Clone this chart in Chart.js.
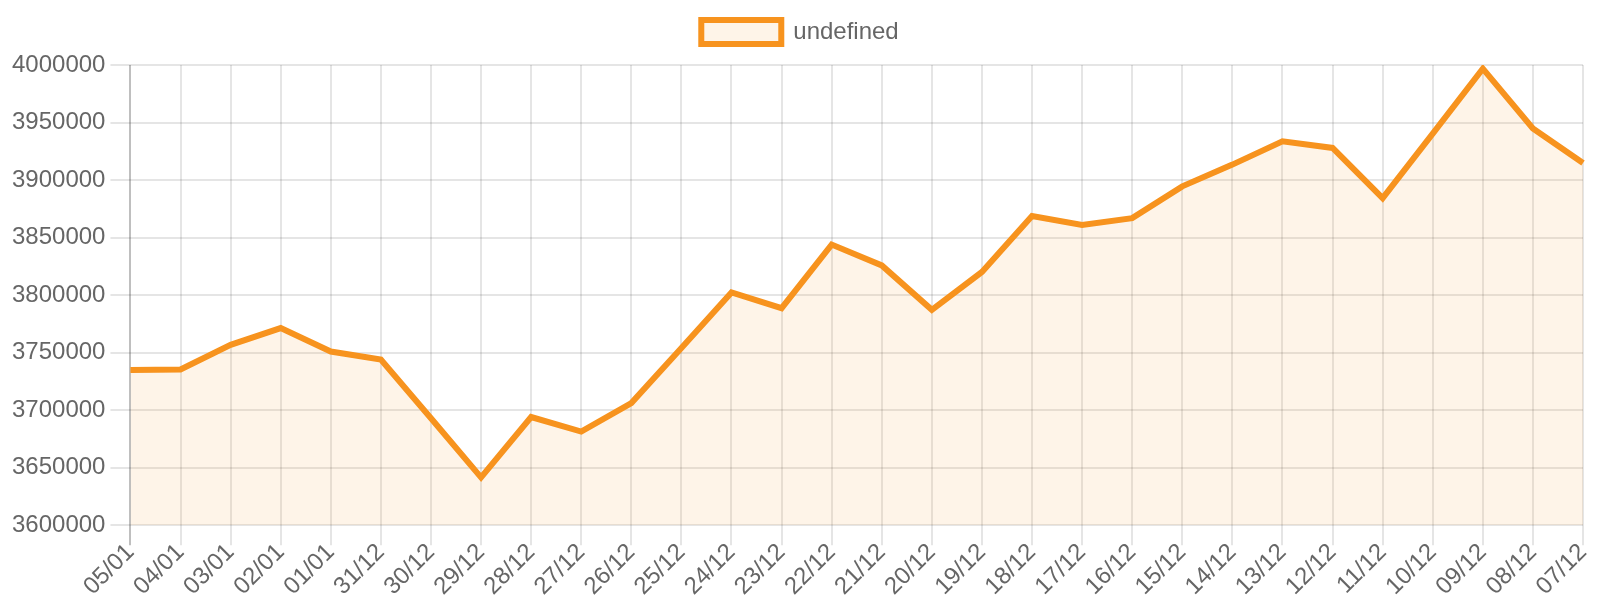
<!DOCTYPE html>
<html>
<head>
<meta charset="utf-8">
<script src="https://cdn.jsdelivr.net/npm/chart.js@4"></script>
<style>
html,body{margin:0;padding:0;background:#fff;}
#wrap{width:1600px;height:600px;position:relative;}
</style>
</head>
<body>
<div id="wrap"><canvas id="c"></canvas></div>
<script>
const categories = ['05/01','04/01','03/01','02/01','01/01','31/12','30/12','29/12','28/12','27/12','26/12','25/12','24/12','23/12','22/12','21/12','20/12','19/12','18/12','17/12','16/12','15/12','14/12','13/12','12/12','11/12','10/12','09/12','08/12','07/12'];
const seriesValues = [3734900,3735400,3756700,3771300,3750900,3743900,3693000,3641500,3694000,3681300,3706100,3754000,3802300,3788600,3843900,3825800,3787200,3820100,3868700,3861000,3866900,3894500,3913400,3933700,3927900,3884300,3940400,3996800,3944800,3914800];
const seriesLabel = 'undefined';
const yMin = 3600000, yMax = 4000000, yStep = 50000;

const FONT = {family: '"Liberation Sans", Arial, Helvetica, sans-serif', size: 24};
const TEXT = '#666';
const GRID = 'rgba(0,0,0,0.1)';
const ZERO = 'rgba(0,0,0,0.25)';

const legendSpacer = {
  id: 'legendSpacer',
  beforeInit(chart) {
    const orig = chart.legend.fit;
    chart.legend.fit = function () {
      orig.call(this);
      this.height += 11;
    };
  },
  afterLayout(chart) {
    const lg = chart.legend;
    const shift = (chart.width / 2) - (lg.left + lg.right) / 2;
    lg.left += shift;
    lg.right += shift;
  }
};

new Chart(document.getElementById('c'), {
  type: 'line',
  data: {
    labels: categories,
    datasets: [{
      label: seriesLabel,
      data: seriesValues,
      borderColor: 'rgb(247,147,30)',
      backgroundColor: 'rgba(247,147,30,0.1)',
      borderWidth: 6,
      fill: 'origin',
      tension: 0,
      pointRadius: 0,
      pointHoverRadius: 0
    }]
  },
  plugins: [legendSpacer],
  options: {
    responsive: true,
    maintainAspectRatio: false,
    devicePixelRatio: 1,
    animation: false,
    layout: {padding: {left: 7, right: 17, top: 0, bottom: 0}},
    plugins: {
      legend: {
        display: true,
        position: 'top',
        labels: {font: FONT, color: TEXT, boxWidth: 80, boxHeight: 24, padding: 20}
      },
      tooltip: {enabled: false}
    },
    scales: {
      x: {
        grid: {
          color: (ctx) => ctx.index === 0 ? ZERO : GRID,
          lineWidth: 2,
          tickLength: 20,
          drawTicks: true
        },
        border: {display: false},
        ticks: {font: FONT, color: TEXT, maxRotation: 45, minRotation: 45, autoSkip: false, padding: -7},
        afterFit: (scale) => { scale.height += 6; }
      },
      y: {
        min: yMin,
        max: yMax,
        grid: {color: GRID, lineWidth: 2, tickLength: 20},
        border: {display: false},
        ticks: {font: FONT, color: TEXT, stepSize: yStep, padding: 5, callback: (v) => String(v)}
      }
    }
  }
});
</script>
</body>
</html>
